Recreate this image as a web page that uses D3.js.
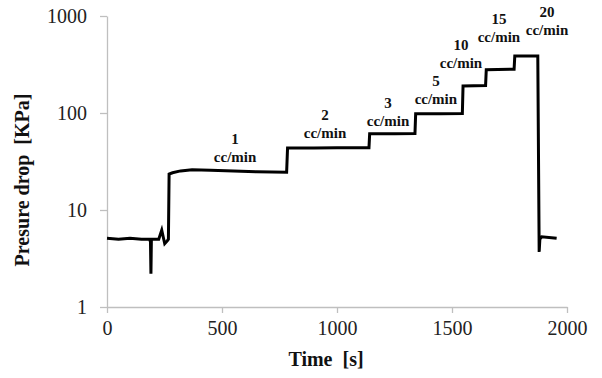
<!DOCTYPE html>
<html>
<head>
<meta charset="utf-8">
<script src="https://cdn.jsdelivr.net/npm/d3@7"></script>
<style>
  body { margin: 0; background: #fff; }
  svg { display: block; }
  .tick text { font-family: "Liberation Serif", "Times New Roman", serif; font-size: 20px; fill: #222; }
</style>
</head>
<body>
<div id="chart"></div>
<script>
// pressure drop trace [time s, pressure KPa]
const times = [0, 50, 100, 150, 185, 189, 191, 193, 225, 238, 245, 251, 262, 267, 270, 285, 320, 370, 450, 550, 650, 781, 785, 900, 1000, 1139, 1142, 1250, 1339, 1342, 1450, 1545, 1548, 1646, 1649, 1770, 1773, 1873, 1879, 1882, 1890, 1955];
const pressure = [5.1, 5.0, 5.1, 5.0, 5.0, 4.7, 2.2, 5.0, 5.0, 6.2, 5.2, 4.5, 4.8, 5.0, 23.5, 24.2, 25.3, 26.0, 25.7, 25.2, 24.8, 24.5, 43.5, 43.6, 43.8, 43.8, 61, 61, 61.5, 98, 98.5, 99, 190, 192, 280, 283, 388, 388, 3.7, 5.0, 5.3, 5.1];

// flow-rate annotations (anchor = baseline of the "cc/min" line, in data units)
const flowLabels = ["1", "2", "3", "5", "10", "15", "20"];
const flowTimes = [557, 948, 1222, 1430, 1539, 1704, 1913];
const flowPress = [31, 55, 73, 123, 289, 536, 632];

const xTicks = [0, 500, 1000, 1500, 2000];
const yTicks = [1, 10, 100, 1000];

const W = 602, H = 378;
const margin = { top: 16, right: 35, bottom: 71, left: 107 };

const svg = d3.select("#chart").append("svg").attr("width", W).attr("height", H);

const x = d3.scaleLinear().domain([0, 2000]).range([margin.left, W - margin.right]);
const y = d3.scaleLog().domain([1, 1000]).range([H - margin.bottom, margin.top]);

const axisColor = "#bfbfbf";

// x axis
const gx = svg.append("g")
    .attr("transform", `translate(0,${H - margin.bottom})`)
    .call(d3.axisBottom(x).tickValues(xTicks).tickFormat(d3.format("d")).tickSize(6).tickSizeOuter(0).tickPadding(8));
gx.select(".domain").attr("stroke", axisColor).attr("stroke-width", 1.3);
gx.selectAll(".tick line").attr("stroke", axisColor).attr("stroke-width", 1.3);

// y axis
const gy = svg.append("g")
    .attr("transform", `translate(${margin.left},0)`)
    .call(d3.axisLeft(y).tickValues(yTicks).tickFormat(d3.format("d")).tickSize(7).tickSizeOuter(0).tickPadding(13));
gy.select(".domain").attr("stroke", axisColor).attr("stroke-width", 1.3);
gy.selectAll(".tick line").attr("stroke", axisColor).attr("stroke-width", 1.3);

// trace
const pts = times.map((t, i) => [t, pressure[i]]);
const line = d3.line().x(d => x(d[0])).y(d => y(d[1]));
svg.append("path")
    .datum(pts)
    .attr("d", line)
    .attr("fill", "none")
    .attr("stroke", "#000")
    .attr("stroke-width", 3)
    .attr("stroke-linejoin", "miter");

// annotations
const ann = svg.append("g")
    .attr("font-family", "Liberation Serif, Times New Roman, serif")
    .attr("font-weight", "bold")
    .attr("font-size", 15)
    .attr("text-anchor", "middle")
    .attr("fill", "#111");
flowLabels.forEach((lab, i) => {
    const t = ann.append("text")
        .attr("x", x(flowTimes[i]))
        .attr("y", y(flowPress[i]));
    t.append("tspan").attr("x", x(flowTimes[i])).attr("dy", -18).text(lab);
    t.append("tspan").attr("x", x(flowTimes[i])).attr("dy", 18).text("cc/min");
});

// axis titles
svg.append("text")
    .attr("x", (margin.left + W - margin.right) / 2 - 11)
    .attr("y", 366)
    .attr("text-anchor", "middle")
    .attr("font-family", "Liberation Serif, Times New Roman, serif")
    .attr("font-weight", "bold")
    .attr("font-size", 20)
    .attr("fill", "#111")
    .attr("xml:space", "preserve")
    .text("Time  [s]");

svg.append("text")
    .attr("transform", `translate(29,180) rotate(-90)`)
    .attr("text-anchor", "middle")
    .attr("font-family", "Liberation Serif, Times New Roman, serif")
    .attr("font-weight", "bold")
    .attr("font-size", 20)
    .attr("fill", "#111")
    .attr("xml:space", "preserve")
    .text("Presure drop  [KPa]");
</script>
</body>
</html>
